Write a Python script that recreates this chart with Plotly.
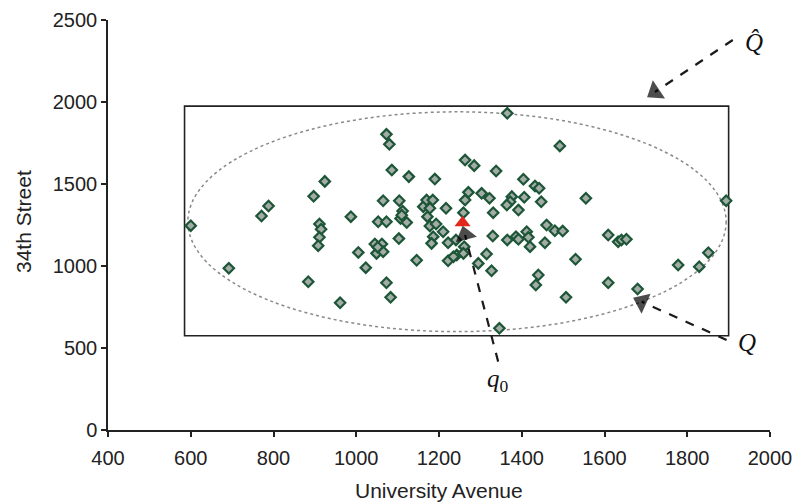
import plotly.graph_objects as go

# ---- data ----
pts_x = [600, 692, 771, 788, 884, 897, 924, 911, 915, 911, 908, 961, 987, 1005, 1023,
         1045, 1062, 1049, 1065, 1052, 1053, 1073, 1065, 1073, 1083, 1073, 1080, 1086,
         1103, 1104, 1107, 1112, 1122, 1110, 1127, 1146, 1190, 1162, 1170, 1185, 1178,
         1172, 1178, 1193, 1186, 1182, 1365, 1263, 1285, 1338, 1404, 1432, 1442, 1217,
         1271, 1263, 1259, 1303, 1322, 1331, 1376, 1372, 1364, 1406, 1392, 1447, 1210,
         1222, 1241, 1261, 1222, 1243, 1259, 1295, 1315, 1327, 1330, 1365, 1386, 1392,
         1412, 1416, 1420, 1456, 1440, 1434, 1346, 1460, 1492, 1555, 1480, 1499, 1530,
         1507, 1609, 1633, 1641, 1653, 1609, 1680, 1778, 1829, 1851, 1894, 1235]
pts_y = [1246, 986, 1305, 1366, 904, 1425, 1516, 1256, 1224, 1175, 1124, 776, 1301, 1083, 990,
         1134, 1134, 1077, 1087, 1115, 1270, 1270, 1398, 898, 809, 1803, 1742, 1585,
         1167, 1398, 1290, 1335, 1265, 1310, 1545, 1035, 1530, 1362, 1402, 1402, 1352,
         1301, 1244, 1256, 1179, 1138, 1931, 1646, 1612, 1579, 1529, 1488, 1474, 1352,
         1449, 1402, 1325, 1443, 1413, 1325, 1423, 1392, 1372, 1419, 1341, 1392, 1209,
         1142, 1159, 1118, 1032, 1067, 1077, 1016, 1073, 971, 1183, 1159, 1179, 1163,
         1209, 1175, 1118, 1142, 945, 884, 620, 1250, 1732, 1413, 1215, 1213, 1041,
         809, 1189, 1148, 1159, 1163, 898, 860, 1006, 996, 1081, 1398, 1057]
q0_x = [1257]
q0_y = [1264]

rect_x = [585, 1900]
rect_y = [575, 1975]
ell_x = [593, 1894]
ell_y = [600, 1940]

x_ticks = [400, 600, 800, 1000, 1200, 1400, 1600, 1800, 2000]
y_ticks = [0, 500, 1000, 1500, 2000, 2500]

# arrows: (start, tip)
arrows = {
    "Qhat": ([1910, 1722], [2378, 2061]),
    "Q": ([1895, 1690], [549, 782]),
    "q0": ([1343, 1263], [417, 1189]),
}

fig = go.Figure()

fig.add_shape(type="rect", x0=rect_x[0], x1=rect_x[1], y0=rect_y[0], y1=rect_y[1],
              line=dict(color="#222", width=1.6), layer="below")
fig.add_shape(type="circle", x0=ell_x[0], x1=ell_x[1], y0=ell_y[0], y1=ell_y[1],
              line=dict(color="#8a8a8a", width=1.5, dash="dot"), layer="below")

fig.add_trace(go.Scatter(
    x=pts_x, y=pts_y, mode="markers",
    marker=dict(symbol="diamond", size=8, color="#a3aca7",
                line=dict(color="#1d5637", width=2.2)),
    showlegend=False, hoverinfo="skip"))

fig.add_trace(go.Scatter(
    x=q0_x, y=q0_y, mode="markers",
    marker=dict(symbol="triangle-up", size=14, color="#e2281c", line=dict(width=0)),
    showlegend=False, hoverinfo="skip"))

for name, (ax, ay) in arrows.items():
    fig.add_trace(go.Scatter(
        x=ax, y=ay, mode="lines+markers", cliponaxis=False,
        line=dict(color="#1a1a1a", width=2.2, dash="dash"),
        marker=dict(symbol="triangle-up", size=[0, 19], color="#000",
                    angleref="previous", line=dict(width=0)),
        showlegend=False, hoverinfo="skip"))

fig.add_annotation(x=1962, y=2365, text="<i>Q\u0302</i>", showarrow=False,
                   font=dict(family="Liberation Serif", size=25, color="#111"))
fig.add_annotation(x=1945, y=532, text="<i>Q</i>", showarrow=False,
                   font=dict(family="Liberation Serif", size=25, color="#111"))
fig.add_annotation(x=1343, y=300, text="<i>q</i><sub>0</sub>", showarrow=False,
                   font=dict(family="Liberation Serif", size=25, color="#111"))

# axis titles
fig.add_annotation(xref="paper", yref="paper", x=0, y=0.5, xshift=-85, yshift=3,
                   xanchor="center", yanchor="middle",
                   textangle=-90, text="34th Street", showarrow=False,
                   font=dict(family="Liberation Sans", size=21, color="#222"))
fig.add_annotation(xref="paper", yref="paper", x=0.5, y=0, yshift=-60,
                   xanchor="center", yanchor="middle",
                   text="University Avenue", showarrow=False,
                   font=dict(family="Liberation Sans", size=21, color="#222"))

axis_common = dict(showgrid=False, zeroline=False, showline=True, linecolor="#222",
                   linewidth=1.5, ticks="outside", ticklen=5, tickwidth=1.5,
                   tickcolor="#222", automargin=False,
                   tickfont=dict(family="Liberation Sans", size=20, color="#222"))
fig.update_xaxes(range=[400, 2000], tickvals=x_ticks, ticklabelstandoff=4, **axis_common)
fig.update_yaxes(range=[0, 2500], tickvals=y_ticks, **axis_common)

fig.update_layout(width=803, height=503, plot_bgcolor="white", paper_bgcolor="white",
                  margin=dict(l=100, r=41, t=12, b=81))

fig.write_html("out.html")
